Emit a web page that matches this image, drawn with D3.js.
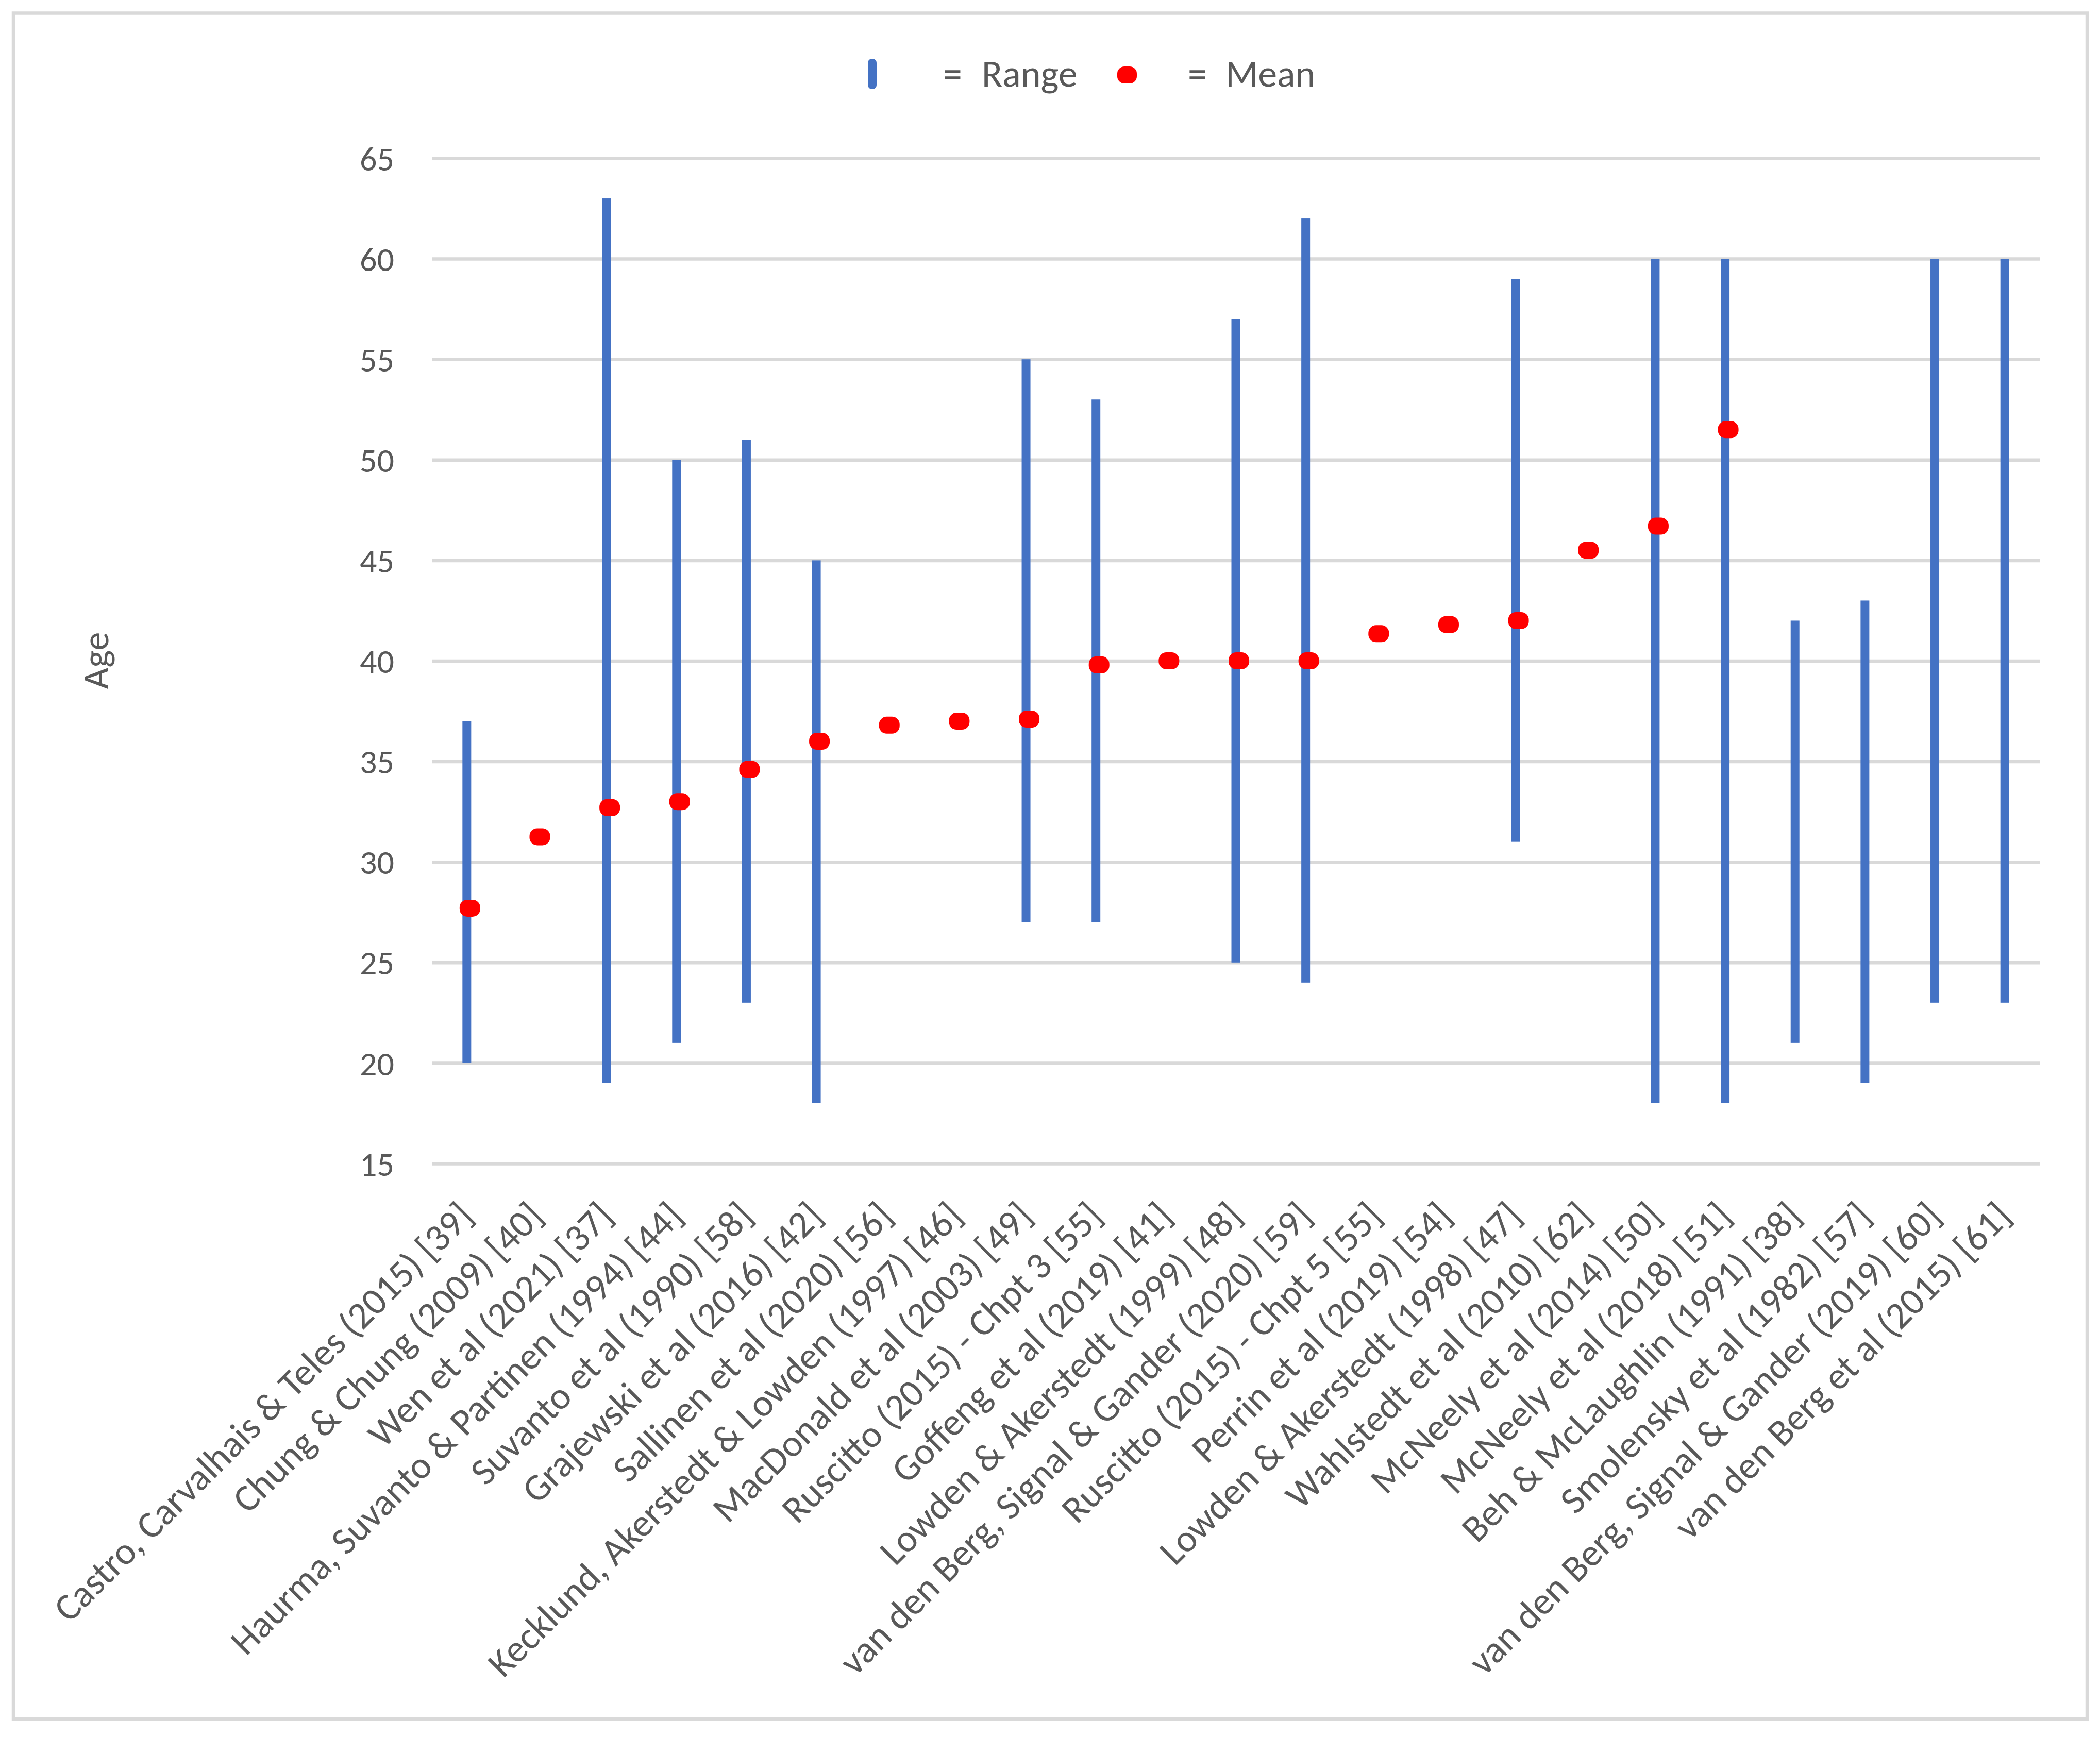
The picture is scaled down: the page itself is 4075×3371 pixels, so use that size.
<!DOCTYPE html>
<html>
<head>
<meta charset="utf-8">
<script src="https://cdn.jsdelivr.net/npm/d3@7"></script>
<style>
  html, body { margin: 0; padding: 0; background: #fff; }
  svg { display: block; }
  text { font-family: Carlito, Calibri, Lato, sans-serif; fill: #595959; }
</style>
</head>
<body>
<svg id="chart" width="4075" height="3371"></svg>
<script>
const categories = [
  "Castro, Carvalhais & Teles (2015) [39]",
  "Chung & Chung (2009) [40]",
  "Wen et al (2021) [37]",
  "Haurma, Suvanto & Partinen (1994) [44]",
  "Suvanto et al (1990) [58]",
  "Grajewski et al (2016) [42]",
  "Sallinen et al (2020) [56]",
  "Kecklund, Akerstedt & Lowden (1997) [46]",
  "MacDonald et al (2003) [49]",
  "Ruscitto (2015) - Chpt 3 [55]",
  "Goffeng et al (2019) [41]",
  "Lowden & Akerstedt (1999) [48]",
  "van den Berg, Signal & Gander (2020) [59]",
  "Ruscitto (2015) - Chpt 5 [55]",
  "Perrin et al (2019) [54]",
  "Lowden & Akerstedt (1998) [47]",
  "Wahlstedt et al (2010) [62]",
  "McNeely et al (2014) [50]",
  "McNeely et al (2018) [51]",
  "Beh & McLaughlin (1991) [38]",
  "Smolensky et al (1982) [57]",
  "van den Berg, Signal & Gander (2019) [60]",
  "van den Berg et al (2015) [61]"
];
const rangeMin = [20, null, 19, 21, 23, 18, null, null, 27, 27, null, 25, 24, null, null, 31, null, 18, 18, 21, 19, 23, 23];
const rangeMax = [37, null, 63, 50, 51, 45, null, null, 55, 53, null, 57, 62, null, null, 59, null, 60, 60, 42, 43, 60, 60];
const meanAge  = [27.7, 31.25, 32.7, 33, 34.6, 36, 36.8, 37, 37.1, 39.8, 40, 40, 40, 41.35, 41.8, 42, 45.5, 46.7, 51.5, null, null, null, null];
const yTicks = [15, 20, 25, 30, 35, 40, 45, 50, 55, 60, 65];
const yTitle = "Age";
const legendItems = ["Range", "Mean"];

const svg = d3.select("#chart");
const plot = { left: 838, right: 3958, top: 307, bottom: 2258 };

// outer border
svg.append("rect").attr("x", 26).attr("y", 25.5).attr("width", 4050 - 26).attr("height", 3336 - 25.5)
  .attr("fill", "#fff").attr("stroke", "#d9d9d9").attr("stroke-width", 6.5);

const x = d3.scaleBand().domain(categories).range([plot.left, plot.right]).paddingInner(0).paddingOuter(0);
const y = d3.scaleLinear().domain([15, 65]).range([plot.bottom, plot.top]);

// gridlines + y tick labels
const yAxis = d3.axisLeft(y).tickValues(yTicks).tickSize(-(plot.right - plot.left)).tickPadding(73).tickFormat(d3.format("d"));
const gy = svg.append("g").attr("transform", `translate(${plot.left},0)`).call(yAxis);
gy.select(".domain").remove();
gy.selectAll(".tick line").attr("stroke", "#d9d9d9").attr("stroke-width", 6.5);
gy.selectAll(".tick text").attr("font-size", 66).attr("fill", "#595959").attr("dy", "0.35em");

// x axis labels
const xAxis = d3.axisBottom(x).tickSize(0).tickPadding(0);
const gx = svg.append("g").attr("transform", `translate(0,${plot.bottom})`).call(xAxis);
gx.select(".domain").remove();
gx.selectAll(".tick text")
  .attr("font-size", 74)
  .attr("fill", "#595959")
  .attr("text-anchor", "end")
  .attr("dy", null)
  .attr("y", 0)
  .attr("transform", "translate(16,106) rotate(-45)");

const cx = d => x(d) + x.bandwidth() / 2;
const barW = 17;

// range bars
const rangeData = categories.map((c, i) => ({ c, lo: rangeMin[i], hi: rangeMax[i] })).filter(d => d.lo != null);
svg.append("g").selectAll("rect").data(rangeData).join("rect")
  .attr("x", d => cx(d.c) - barW / 2)
  .attr("width", barW)
  .attr("y", d => y(d.hi))
  .attr("height", d => y(d.lo) - y(d.hi))
  .attr("fill", "#4472C4");

// mean markers
const dotW = 40, dotH = 33, dotOff = 6;
const meanData = categories.map((c, i) => ({ c, v: meanAge[i] })).filter(d => d.v != null);
svg.append("g").selectAll("rect").data(meanData).join("rect")
  .attr("x", d => cx(d.c) + dotOff - dotW / 2)
  .attr("y", d => y(d.v) - dotH / 2)
  .attr("width", dotW).attr("height", dotH)
  .attr("rx", 15).attr("ry", 15)
  .attr("fill", "#FF0000");

// y title
svg.append("text").attr("transform", "translate(210,1282) rotate(-90)")
  .attr("text-anchor", "middle").attr("font-size", 72).text(yTitle);

// legend
const lg = svg.append("g");
lg.append("rect").attr("x", 1684).attr("y", 114).attr("width", 17).attr("height", 59).attr("rx", 8).attr("fill", "#4472C4");
lg.append("text").attr("x", 1830).attr("y", 168).attr("font-size", 74).text("=");
lg.append("text").attr("x", 1905).attr("y", 168).attr("font-size", 74).text(legendItems[0]);
lg.append("rect").attr("x", 2168).attr("y", 129).attr("width", 38).attr("height", 33).attr("rx", 14).attr("fill", "#FF0000");
lg.append("text").attr("x", 2305).attr("y", 168).attr("font-size", 74).text("=");
lg.append("text").attr("x", 2378).attr("y", 168).attr("font-size", 74).text(legendItems[1]);
</script>
</body>
</html>
